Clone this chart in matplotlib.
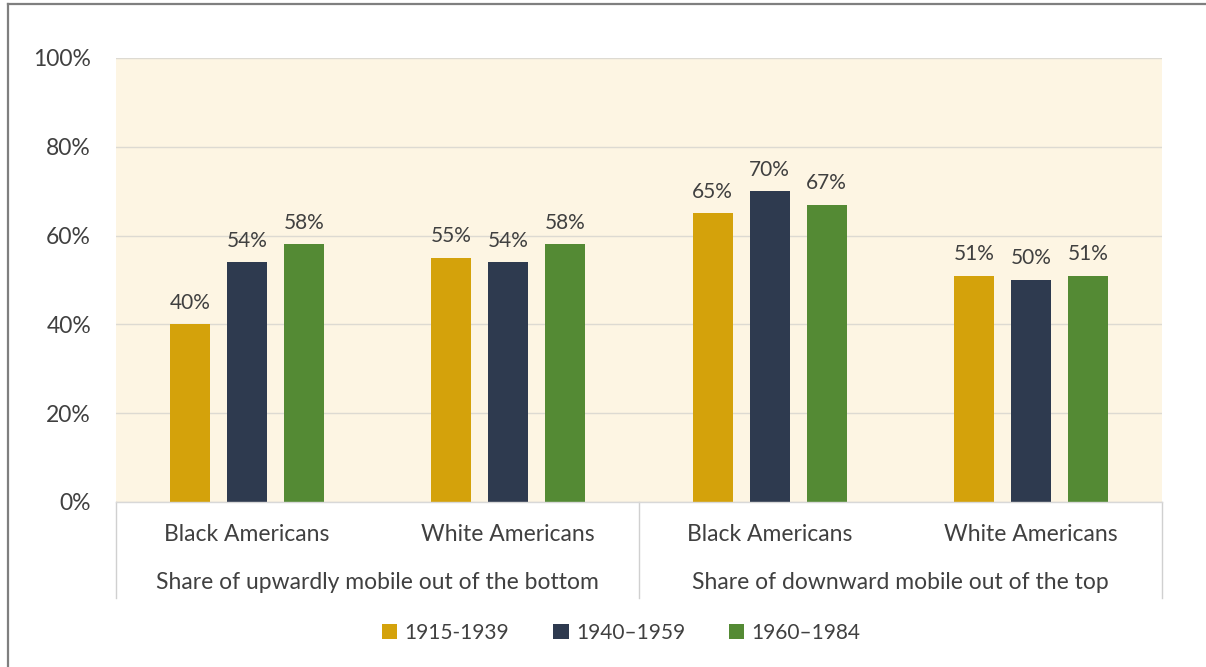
import numpy as np
import matplotlib.pyplot as plt
from matplotlib.lines import Line2D

# Chart data
subgroups = ["Black Americans", "White Americans", "Black Americans", "White Americans"]
groups = ["Share of upwardly mobile out of the bottom", "Share of downward mobile out of the top"]
periods = ["1915-1939", "1940\u20131959", "1960\u20131984"]
vals_1915 = [40, 55, 65, 51]
vals_1940 = [54, 54, 70, 50]
vals_1960 = [58, 58, 67, 51]
yticks = [0, 20, 40, 60, 80, 100]

colors = ["#D4A20B", "#2E3A4F", "#548A34"]
text_col = "#404040"
plt.rcParams['font.family'] = ['Lato', 'DejaVu Sans']

fig = plt.figure(figsize=(12.06, 6.67), dpi=100)
ax = fig.add_axes([116 / 1206, 1 - 502 / 667, 1046 / 1206, 444 / 667])
ax.set_facecolor("#FDF5E3")

x = np.arange(len(subgroups)) + 0.5
width = 0.153
offset = 0.218
series = [vals_1915, vals_1940, vals_1960]
for i, (vals, col, lab) in enumerate(zip(series, colors, periods)):
    pos = x + (i - 1) * offset
    bars = ax.bar(pos, vals, width, color=col, label=lab, zorder=3)
    for b, v in zip(bars, vals):
        ax.text(b.get_x() + b.get_width() / 2, v + 2.6, f"{v}%", ha="center", va="bottom",
                fontsize=15, color=text_col)

ax.set_xlim(0, len(subgroups))
ax.set_ylim(0, 100)
ax.set_yticks(yticks)
ax.set_yticklabels([f"{t}%" for t in yticks], fontsize=16.5, color=text_col)
ax.tick_params(axis="y", length=0, pad=18)
ax.set_xticks([])
ax.grid(axis="y", color="#DDDAD2", lw=1.0, zorder=0)
for s in ax.spines.values():
    s.set_visible(False)

# two-level category axis
tr = ax.get_xaxis_transform()
for xi, name in zip(x, subgroups):
    ax.text(xi, -0.074, name, transform=tr, ha="center", va="center", fontsize=16.5, color=text_col)
for gi, name in enumerate(groups):
    ax.text(gi * 2 + 1, -0.182, name, transform=tr, ha="center", va="center", fontsize=16.5, color=text_col)
for xv in [0, 2, 4]:
    ax.plot([xv, xv], [0, -0.216], transform=tr, color="#D0D0D0", lw=1, clip_on=False)
ax.plot([0, 4], [0, 0], transform=tr, color="#D8D8D8", lw=1, clip_on=False, zorder=4)

ax.legend(loc="center", bbox_to_anchor=(0.515, 0.051), bbox_transform=fig.transFigure,
          ncol=3, frameon=False, fontsize=15, handlelength=0.75, handleheight=0.75,
          handletextpad=0.35, columnspacing=2.1, labelcolor=text_col)

# outer frame of the picture
fig.add_artist(Line2D([8 / 1206, 8 / 1206], [0, 1 - 4 / 667], color="#7F7F7F", lw=1.6))
fig.add_artist(Line2D([8 / 1206, 1], [1 - 4 / 667, 1 - 4 / 667], color="#7F7F7F", lw=1.6))

fig.savefig("out.png", dpi=100)
